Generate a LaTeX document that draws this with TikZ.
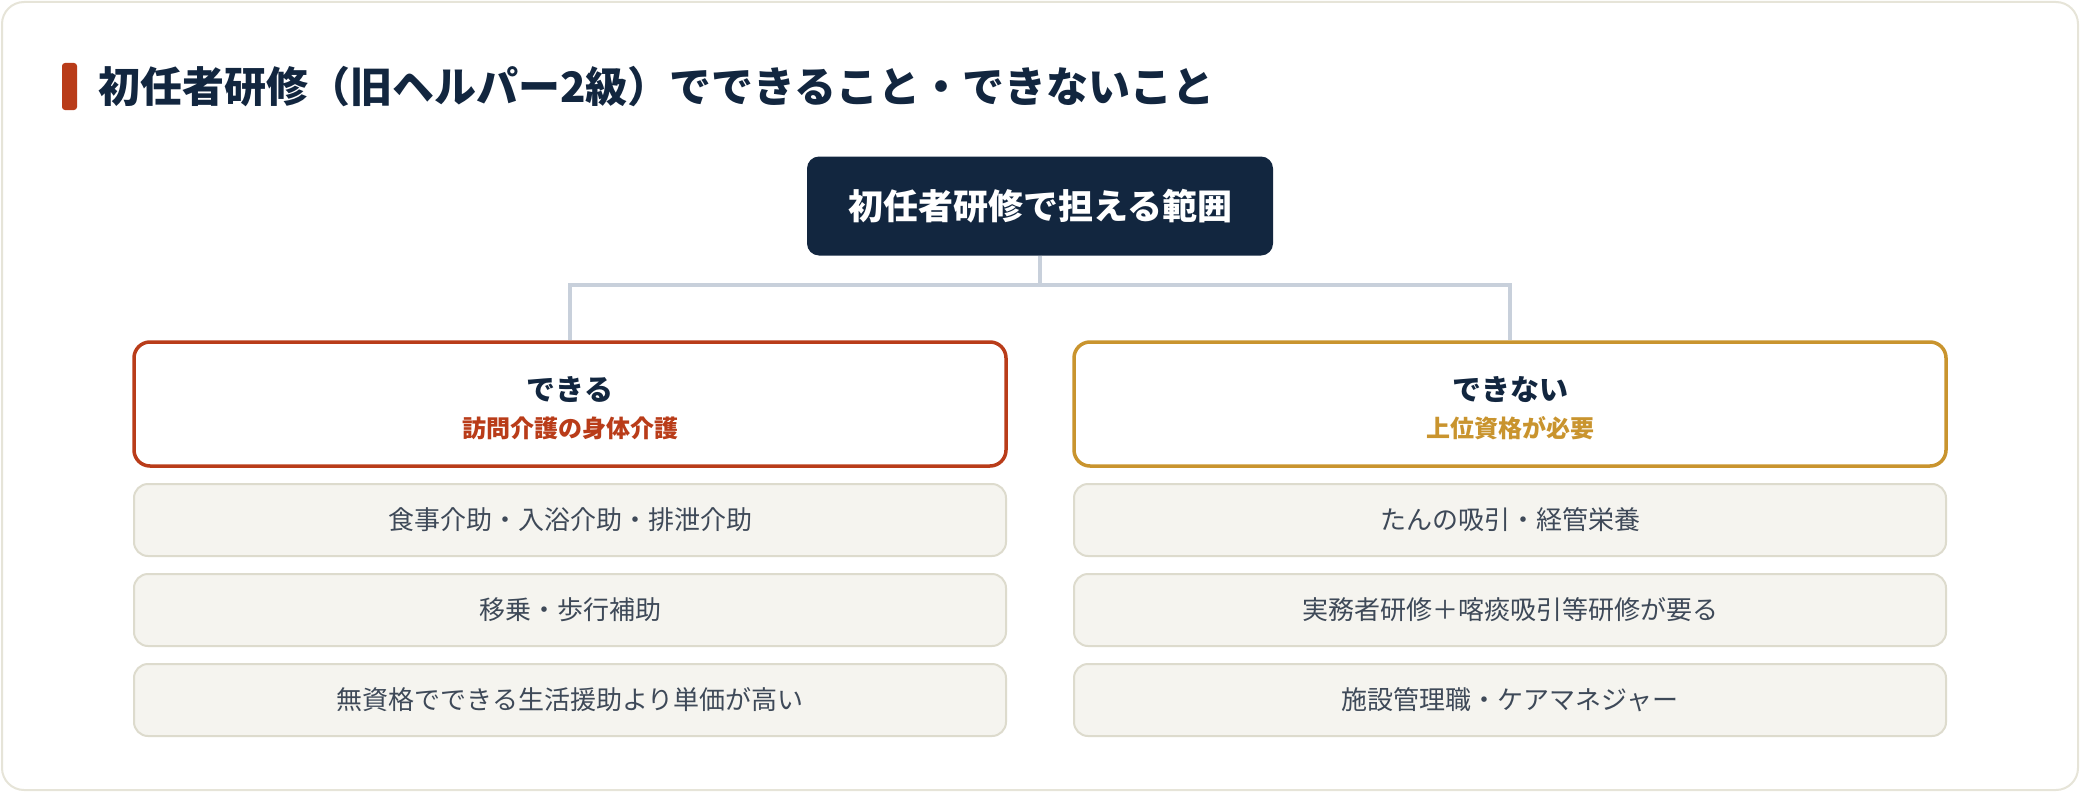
\documentclass[tikz,border=0pt]{standalone}
\usepackage{fontspec}
\setmainfont{Noto Sans CJK JP}
\usepackage{tikz}
\usetikzlibrary{positioning}
\definecolor{navy}{HTML}{12263F}
\definecolor{canred}{HTML}{B93C19}
\definecolor{cangold}{HTML}{C9942E}
\definecolor{itemfill}{HTML}{F5F4EF}
\definecolor{itemline}{HTML}{DDDBCD}
\definecolor{itemtext}{HTML}{3E4958}
\definecolor{linkgray}{HTML}{C8D0DB}
\definecolor{cardline}{HTML}{E6E4D8}
\tikzset{
	topbox/.style={fill=navy, rounded corners=12pt, minimum width=466pt, minimum height=99pt,
		text=white, font=\fontsize{35}{40}\selectfont\bfseries},
	headbox/.style={draw=#1, line width=3.5pt, fill=white, rounded corners=16pt,
		minimum width=872pt, minimum height=124pt},
	headtitle/.style={text=navy, font=\fontsize{29}{34}\selectfont\bfseries},
	headsub/.style={text=#1, font=\fontsize{24}{28}\selectfont\bfseries},
	itembox/.style={draw=itemline, line width=2pt, fill=itemfill, rounded corners=14pt,
		minimum width=872pt, minimum height=72pt, text=itemtext,
		font=\fontsize{26}{30}\selectfont},
	link/.style={draw=linkgray, line width=3.5pt},
}
\begin{document}
\begin{tikzpicture}[x=1pt, y=-1pt]
	\useasboundingbox (0,0) rectangle (2080,792);
	\draw[cardline, line width=2pt, fill=white, rounded corners=22pt]
		(2,2) rectangle (2078,790);
	
	% title
	\fill[canred, rounded corners=3pt]
		(62,63) rectangle (77,110);
	\node[anchor=west, text=navy, font=\fontsize{42}{48}\selectfont\bfseries, inner sep=0pt]
		(title) at (98,87) {初任者研修（旧ヘルパー2級）でできること・できないこと};
	
	% top node and branches
	\node[topbox] (top) at (1040,206) {初任者研修で担える範囲};
	\coordinate (split) at (1040,285);
	
	\node[headbox=canred] (can) at (570,404) {};
	\node[headbox=cangold] (cannot) at (1510,404) {};
	
	\node[headtitle] (cantitle) at ([yshift=14pt]can.center) {できる};
	\node[headsub=canred] (cansub) at ([yshift=-24pt]can.center) {訪問介護の身体介護};
	\node[headtitle] (cannottitle) at ([yshift=14pt]cannot.center) {できない};
	\node[headsub=cangold] (cannotsub) at ([yshift=-24pt]cannot.center) {上位資格が必要};
	
	\draw[link] (top.south) -- (split) -| (can.north);
	\draw[link] (split) -| (cannot.north);
	
	% items
	\foreach \txt [count=\i] in {食事介助・入浴介助・排泄介助, 移乗・歩行補助, 無資格でできる生活援助より単価が高い}{
		\node[itembox] (can\i) at (570,{430+90*\i}) {\txt};
	}
	\foreach \txt [count=\i] in {たんの吸引・経管栄養, 実務者研修＋喀痰吸引等研修が要る, 施設管理職・ケアマネジャー}{
		\node[itembox] (cannot\i) at (1510,{430+90*\i}) {\txt};
	}
\end{tikzpicture}
\end{document}
